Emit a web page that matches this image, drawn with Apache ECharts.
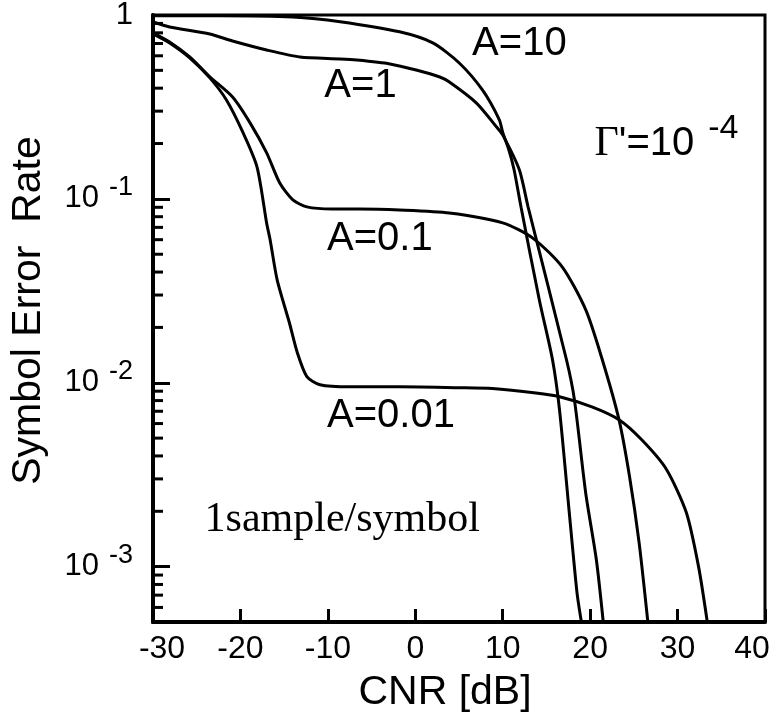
<!DOCTYPE html>
<html>
<head>
<meta charset="utf-8">
<script src="https://cdn.jsdelivr.net/npm/echarts@6/dist/echarts.min.js"></script>
<style>
  html, body { margin: 0; padding: 0; background: #fff; }
  #chart { width: 771px; height: 713px; }
</style>
</head>
<body>
<div id="chart"></div>
<script>
// Symbol error rate vs. CNR for several impulsive-noise indices A (Γ' = 1e-4)

// A = 10
const a10Cnr = [-30, -22.3, -14.0, -8.6, -1.8, 2.0, 5.0, 7.7, 9.6, 10.0, 10.7, 11.3, 12.1, 14.2, 15.7, 16.5, 17.6, 18.5, 19.0];
const a10Ser = [0.99, 0.99, 0.975, 0.92, 0.81, 0.705, 0.55, 0.39, 0.27, 0.23, 0.185, 0.144, 0.09, 0.028, 0.0133, 0.0071, 0.002, 0.00072, 0.0005];

// A = 1
const a1Cnr = [-30, -28.1, -23.5, -20.9, -17.0, -13.2, -8.6, -6.7, -2.9, 0.1, 2.8, 3.9, 7.0, 9.3, 10.0, 11.9, 12.9, 17.3, 18.2, 19.5, 20.7, 21.5];
const a1Ser = [0.916, 0.861, 0.788, 0.722, 0.645, 0.591, 0.577, 0.569, 0.542, 0.502, 0.46, 0.432, 0.332, 0.246, 0.223, 0.144, 0.0905, 0.0133, 0.0081, 0.0025, 0.0011, 0.0005];

// A = 0.1
const a01Cnr = [-30, -28.1, -25.8, -23.5, -20.9, -18.9, -17.0, -15.5, -14.0, -12.4, -9.5, -6.4, -1.8, 3.9, 10.0, 13.4, 16.8, 19.5, 21.4, 23.3, 24.5, 25.6, 26.6];
const a01Ser = [0.80, 0.713, 0.591, 0.461, 0.358, 0.259, 0.178, 0.122, 0.0988, 0.0905, 0.0882, 0.0882, 0.0871, 0.0839, 0.0741, 0.0614, 0.0427, 0.0249, 0.0133, 0.0063, 0.0031, 0.00135, 0.0005];

// A = 0.01
const a001Cnr = [-30, -28.1, -25.8, -23.5, -21.6, -19.7, -18.1, -17.0, -16.6, -15.8, -14.4, -13.5, -12.4, -10.9, -7.5, -1.8, 5.0, 8.8, 13.8, 16.5, 20.2, 23.3, 25.9, 28.7, 31.0, 32.4, 33.4];
const a001Ser = [0.79, 0.705, 0.585, 0.455, 0.345, 0.229, 0.149, 0.0738, 0.0598, 0.0363, 0.0212, 0.0146, 0.0108, 0.00975, 0.0095, 0.0095, 0.0094, 0.0093, 0.0088, 0.0084, 0.0074, 0.0063, 0.0049, 0.0034, 0.00197, 0.001, 0.0005];

// axis ranges
const cnrMin = -30, cnrMax = 40, cnrStep = 10;
const serMin = 0.0005, serMax = 1;

// minor ticks of the logarithmic axis (2..9 within each decade)
const serMinorTicks = [
  0.9, 0.8, 0.7, 0.6, 0.5, 0.4, 0.3, 0.2,
  0.09, 0.08, 0.07, 0.06, 0.05, 0.04, 0.03, 0.02,
  0.009, 0.008, 0.007, 0.006, 0.005, 0.004, 0.003, 0.002,
  0.0009, 0.0008, 0.0007, 0.0006
];

// curve annotations, anchored in data space (left edge, vertical centre)
const annotations = [
  { text: 'A=10',  cnr: 6.5,   ser: 0.695 },
  { text: 'A=1',   cnr: -10.4, ser: 0.411 },
  { text: 'A=0.1', cnr: -10.1, ser: 0.0606 },
  { text: 'A=0.01', cnr: -10.1, ser: 0.00662 }
];

const SANS = '"Liberation Sans", Arial, Helvetica, sans-serif';
const SERIF = '"Liberation Serif", "Times New Roman", serif';

function pairs(xs, ys) { return xs.map((x, i) => [x, ys[i]]); }

const curves = [
  { name: 'A=10',   data: pairs(a10Cnr, a10Ser) },
  { name: 'A=1',    data: pairs(a1Cnr, a1Ser) },
  { name: 'A=0.1',  data: pairs(a01Cnr, a01Ser) },
  { name: 'A=0.01', data: pairs(a001Cnr, a001Ser) }
];

const chart = echarts.init(document.getElementById('chart'), null, { renderer: 'canvas' });

const xLabelFont = { fontFamily: SANS, fontSize: 32, color: '#000' };

const option = {
  animation: false,
  backgroundColor: '#fff',
  grid: {
    left: 153, right: 6, top: 15, bottom: 91,
    containLabel: false,
    outerBoundsMode: 'none',
    show: true, borderColor: '#000', borderWidth: 3, backgroundColor: 'transparent'
  },
  xAxis: {
    type: 'value',
    min: cnrMin, max: cnrMax, interval: cnrStep,
    name: 'CNR [dB]',
    nameLocation: 'middle',
    nameGap: 50,
    nameTextStyle: { fontFamily: SANS, fontSize: 41, color: '#000', padding: [0, 28, 0, 0] },
    axisLine: { show: true, onZero: false, lineStyle: { color: '#000', width: 4 } },
    axisTick: { show: true, inside: true, length: 13, lineStyle: { color: '#000', width: 3 } },
    axisLabel: {
      fontFamily: SANS, fontSize: 32, color: '#000', margin: 11,
      // end labels are nudged inwards so they stay on the canvas
      formatter: function (v) {
        if (v === cnrMin) return '{first|' + v + '}';
        if (v === cnrMax) return '{last|' + v + '}';
        return '{mid|' + v + '}';
      },
      rich: {
        first: Object.assign({ padding: [0, 0, 0, 18] }, xLabelFont),
        last: Object.assign({ padding: [0, 26, 0, 0] }, xLabelFont),
        mid: Object.assign({}, xLabelFont)
      }
    },
    splitLine: { show: false }
  },
  yAxis: {
    type: 'log',
    logBase: 10,
    min: serMin, max: serMax,
    name: 'Symbol Error  Rate',
    nameLocation: 'middle',
    nameGap: 104,
    nameRotate: 90,
    nameTextStyle: { fontFamily: SANS, fontSize: 41, color: '#000', padding: [0, 0, 0, 16] },
    axisLine: { show: true, onZero: false, lineStyle: { color: '#000', width: 4 } },
    axisTick: { show: true, inside: true, length: 17, lineStyle: { color: '#000', width: 3 } },
    axisLabel: {
      margin: 20,
      showMinLabel: false,
      formatter: function (v) {
        const lg = Math.log10(v);
        const e = Math.round(lg);
        if (Math.abs(lg - e) > 1e-6) return '';
        if (e === 0) return '{b|1}';
        return '{b|10}{s|' + e + '}';
      },
      rich: {
        b: { fontFamily: SANS, fontSize: 31, color: '#000' },
        s: { fontFamily: SANS, fontSize: 27, color: '#000', padding: [0, 0, 22, 10] }
      }
    },
    splitLine: { show: false }
  },
  series: curves.map(c => ({
    type: 'line',
    name: c.name,
    data: c.data,
    showSymbol: false,
    smooth: 0.25,
    clip: true,
    lineStyle: { color: '#000', width: 3 },
    z: 3
  })).concat([{
    type: 'custom',
    name: 'minor ticks',
    data: serMinorTicks.map(v => [cnrMin, v]),
    renderItem: function (params, api) {
      const p = api.coord([api.value(0), api.value(1)]);
      return {
        type: 'line',
        shape: { x1: p[0], y1: p[1], x2: p[0] + 10, y2: p[1] },
        style: { stroke: '#000', lineWidth: 3 }
      };
    },
    z: 4,
    silent: true
  }])
};

chart.setOption(option);

// text annotations placed through the axes' own scales
const graphics = annotations.map(a => {
  const p = chart.convertToPixel({ gridIndex: 0 }, [a.cnr, a.ser]);
  return {
    type: 'text', x: p[0], y: p[1], z: 10,
    style: { text: a.text, font: '40px ' + SANS, fill: '#000', align: 'left', verticalAlign: 'middle' }
  };
});

const gammaPos = chart.convertToPixel({ gridIndex: 0 }, [20.5, 0.2]);
graphics.push({
  type: 'text', x: gammaPos[0], y: gammaPos[1], z: 10,
  style: {
    text: '{g|\u0393}{n|\'=10}{s|-4}',
    align: 'left', verticalAlign: 'middle',
    rich: {
      g: { fontFamily: SERIF, fontSize: 42, fill: '#000', color: '#000' },
      n: { fontFamily: SANS, fontSize: 40, fill: '#000', color: '#000' },
      s: { fontFamily: SANS, fontSize: 34, fill: '#000', color: '#000', padding: [0, 0, 30, 14] }
    }
  }
});

const notePos = chart.convertToPixel({ gridIndex: 0 }, [-24.1, 0.0018]);
graphics.push({
  type: 'text', x: notePos[0], y: notePos[1], z: 10,
  style: { text: '1sample/symbol', font: '42px ' + SERIF, fill: '#000', align: 'left', verticalAlign: 'middle' }
});

chart.setOption({ graphic: graphics });
</script>
</body>
</html>
